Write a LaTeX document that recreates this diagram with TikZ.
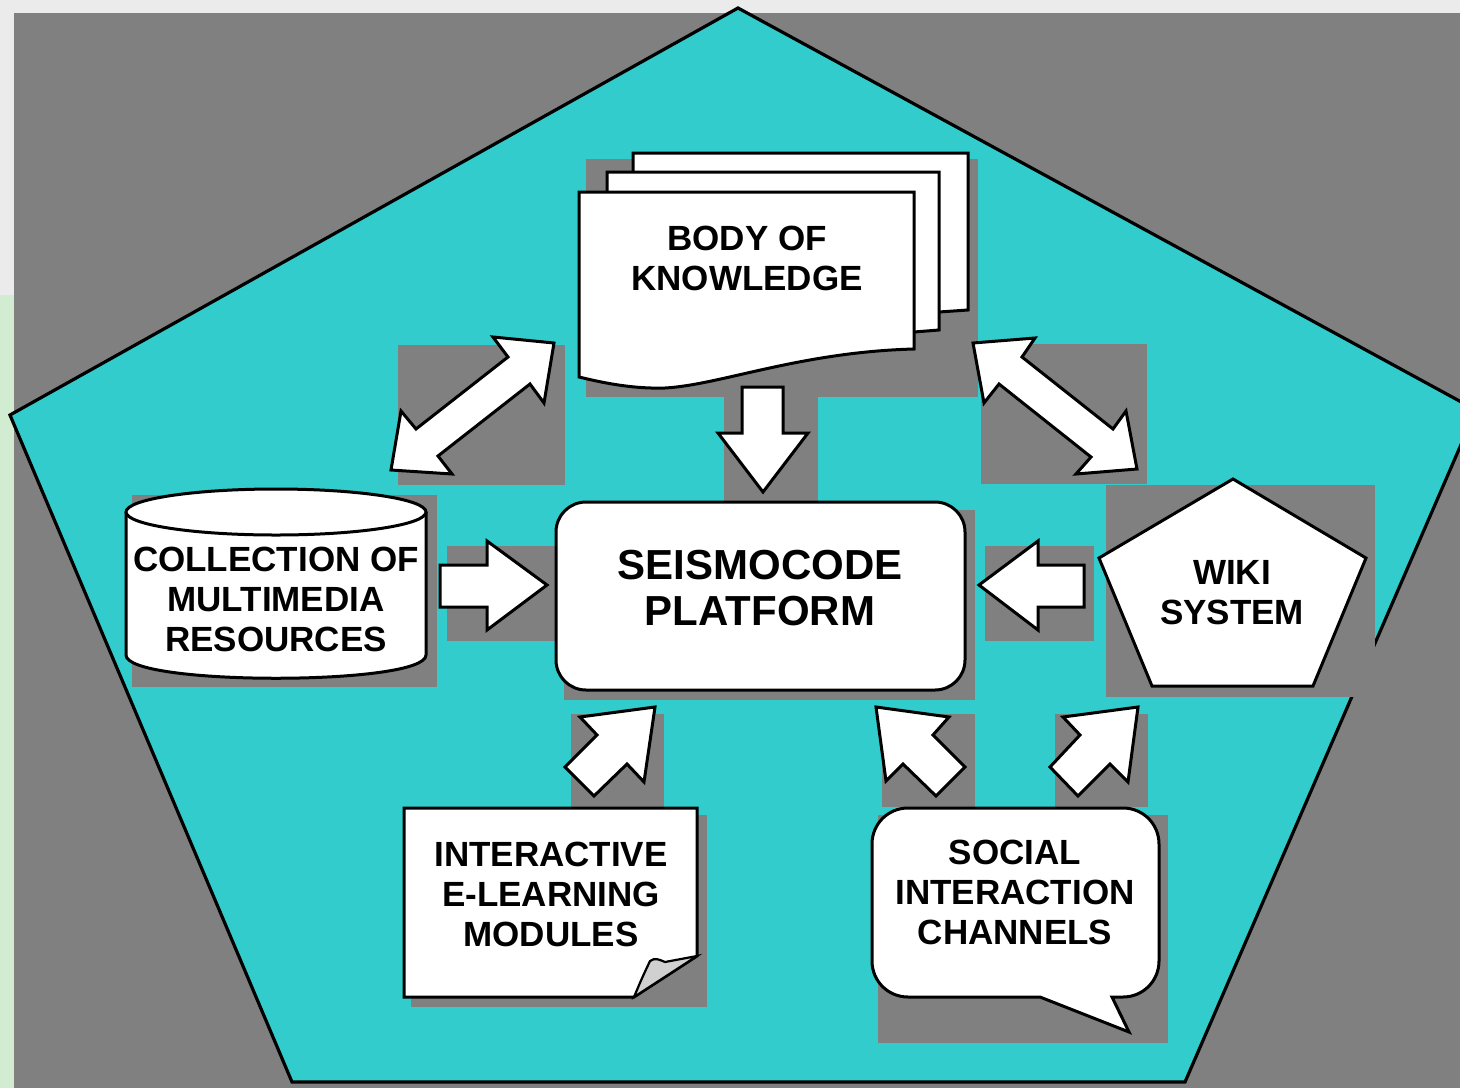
\documentclass[tikz,border=0pt]{standalone}
\usepackage{fontspec}
\setmainfont{Liberation Sans}
\usepackage{tikz}
\usetikzlibrary{positioning}
\definecolor{paper}{HTML}{EBEBEB}
\definecolor{mint}{HTML}{D2ECD2}
\definecolor{backgray}{HTML}{808080}
\definecolor{penta}{HTML}{33CCCC}
\definecolor{curl}{HTML}{D0D0D0}
\tikzset{box/.style={draw=black, fill=white, line width=3pt, line join=miter},
         drop/.style={fill=backgray}}

\begin{document}
\begin{tikzpicture}[x=1pt, y=-1pt, txt/.style={font=\bfseries\fontsize{35}{40}\selectfont, align=center, inner sep=0pt},
bigtxt/.style={font=\bfseries\fontsize{42}{46}\selectfont, align=center, inner sep=0pt}]
    \useasboundingbox (0,0) rectangle (1460,1088);
    \clip (0,0) rectangle (1460,1088);
    % background
    \fill[paper] (0,0) rectangle (1460,1088);
    \fill[mint] (0,295) rectangle (14,1088);
    \fill[backgray] (14,13) rectangle (1460,1088);
    \filldraw[fill=penta, draw=black, line width=3.2pt] (738,8) -- (1476,410) -- (1185,1082) -- (292,1082) -- (10,415) -- cycle;

    % shadows
    \fill[drop] (586,159) rectangle (978,397);
    \fill[drop] (398,345) rectangle (565,485);
    \fill[drop] (981,344) rectangle (1147,484);
    \fill[drop] (724,397) rectangle (818,502);
    \fill[drop] (132,495) rectangle (437,687);
    \fill[drop] (447,546) rectangle (556,641);
    \fill[drop] (564,510) rectangle (975,700);
    \fill[drop] (985,546) rectangle (1094,641);
    \fill[drop] (1106,485) rectangle (1375,697);
    \fill[drop] (571,714) rectangle (664,807);
    \fill[drop] (882,714) rectangle (975,807);
    \fill[drop] (1055,714) rectangle (1148,807);
    \fill[drop] (411,815) rectangle (707,1007);
    \fill[drop] (878,815) rectangle (1168,1043);

    % body of knowledge (stacked pages)
    \draw[box] (633,153) -- (968,153) -- (968,310) -- (939,312) -- (633,330) -- cycle;
    \draw[box] (607,172) -- (939,172) -- (939,330) -- (914,332) -- (607,350) -- cycle;
    \draw[box] (579,192) -- (914,192) -- (914,349) .. controls (800,352) and (720,385) .. (665,388)
        .. controls (630,389) and (600,382) .. (579,377) -- cycle;
    \node[txt] (body) at (747,258.5) {BODY OF\\KNOWLEDGE};

    % multimedia resources
    \draw[box] (126,512) -- (126,655) .. controls (126,686) and (426,686) .. (426,655) -- (426,512);
    \draw[box] (276,512) ellipse [x radius=150pt, y radius=23pt];
    \node[txt] (media) at (276,599.5) {COLLECTION OF\\MULTIMEDIA\\RESOURCES};

    % platform
    \node[box, rounded corners=30pt, minimum width=409pt, minimum height=188pt] (frame) at (760.5,596) {};
    \node[bigtxt] (platform) at (760,588) {SEISMOCODE\\PLATFORM};

    % wiki
    \draw[box] (1233,479) -- (1366,558) -- (1313,686) -- (1152,686) -- (1099,558) -- cycle;
    \node[txt] (wiki) at (1232,593) {WIKI\\SYSTEM};

    % e-learning
    \draw[box] (404,808) -- (697,808) -- (697,956) -- (634,997) -- (404,997) -- cycle;
    \filldraw[fill=curl, line width=2.2pt] (634,997) .. controls (642,978) .. (650,961)
        .. controls (655,957) and (660,960) .. (665,962) -- (697,956) -- cycle;
    \node[txt] (elearn) at (551,894) {INTERACTIVE\\E-LEARNING\\MODULES};

    % social
    \draw[box] (1129,1032) -- (1040,997) -- (908,997) .. controls (888,997) and (872,981) .. (872,961)
        -- (872,844) .. controls (872,824) and (888,808) .. (908,808) -- (1123,808)
        .. controls (1143,808) and (1159,824) .. (1159,844) -- (1159,961)
        .. controls (1159,981) and (1143,997) .. (1123,997) -- (1112,997) -- cycle;
    \node[txt] (social) at (1015,892.5) {SOCIAL\\INTERACTION\\CHANNELS};

    % block arrows
    \draw[box] (742,387) -- (783,387) -- (783,433) -- (808,433) -- (763,492) -- (718,433) -- (742,433) -- cycle;
    \draw[box] (440,565) -- (487,565) -- (487,541) -- (547,585) -- (487,630) -- (487,607) -- (440,607) -- cycle;
    \draw[box] (1084,565) -- (1038,565) -- (1038,541) -- (979,585) -- (1038,630) -- (1038,607) -- (1084,607) -- cycle;
    \draw[box] (554,343) -- (544,403) -- (530,384) -- (438,456) -- (452,474) -- (391,470) -- (401,411)
        -- (416,429) -- (508,357) -- (493,337) -- cycle;
    \draw[box] (973,343) -- (1035,338) -- (1022,357) -- (1113,429) -- (1126,411) -- (1137,469) -- (1076,474)
        -- (1091,457) -- (999,384) -- (984,403) -- cycle;
    \draw[box] (655,707) -- (644,782) -- (627,764) -- (594,796) -- (565,767) -- (597,735) -- (580,717) -- cycle;
    \draw[box] (876,707) -- (949,717) -- (933,735) -- (965,767) -- (936,796) -- (903,764) -- (886,781) -- cycle;
    \draw[box] (1138,707) -- (1128,782) -- (1110,764) -- (1078,796) -- (1050,767) -- (1080,735) -- (1063,717) -- cycle;
\end{tikzpicture}
\end{document}
